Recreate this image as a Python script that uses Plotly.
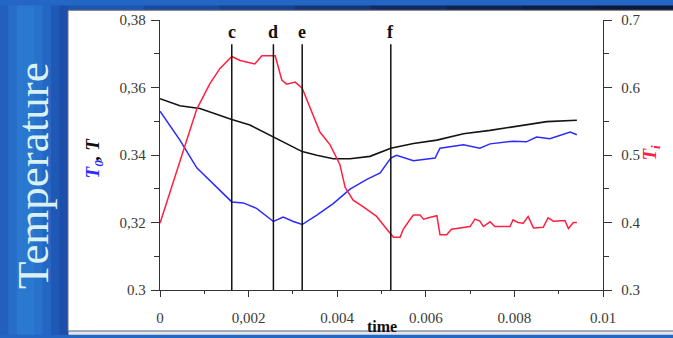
import plotly.graph_objects as go

# ---- data -------------------------------------------------------------
# Mean temperature T (left axis)
t_T = [0, 0.00045, 0.0009, 0.00162, 0.00203, 0.00256, 0.00321, 0.00354, 0.00391,
       0.00429, 0.00474, 0.00521, 0.00572, 0.00625, 0.00685, 0.00745, 0.00797,
       0.00843, 0.00873, 0.00941]
T_vals = [0.3567, 0.3546, 0.3538, 0.3505, 0.3489, 0.3453, 0.3410, 0.3399, 0.3389,
          0.3389, 0.3396, 0.3420, 0.3434, 0.3444, 0.3463, 0.3473, 0.3484,
          0.3492, 0.3499, 0.3503]

# T0 (left axis)
t_T0 = [0, 0.00045, 0.00083, 0.00128, 0.00162, 0.00188, 0.00218, 0.00256, 0.00278,
        0.00301, 0.00321, 0.00354, 0.00391, 0.00429, 0.00467, 0.00497, 0.00521,
        0.00534, 0.00572, 0.00621, 0.00632, 0.00685, 0.00722, 0.00745, 0.00797,
        0.00827, 0.0085, 0.0088, 0.00926, 0.00941]
T0_vals = [0.353, 0.3444, 0.3362, 0.3304, 0.3261, 0.3258, 0.3242, 0.3203, 0.3216,
           0.3203, 0.3194, 0.3222, 0.3256, 0.3299, 0.3328, 0.3347, 0.3391,
           0.3399, 0.3383, 0.3391, 0.3420, 0.3430, 0.3420, 0.3433, 0.3441,
           0.3439, 0.3453, 0.3448, 0.3468, 0.3460]

# Ti (right axis)
t_Ti = [0, 0.00038, 0.0006, 0.00083, 0.00113, 0.00135, 0.00162, 0.00181, 0.00214,
        0.0023, 0.0026, 0.00275, 0.00286, 0.00305, 0.00321, 0.00346, 0.00361,
        0.00384, 0.00406, 0.00418, 0.00436, 0.00459, 0.00489, 0.00512, 0.00527,
        0.00542, 0.00549, 0.00564, 0.00572, 0.00587, 0.00595, 0.00606, 0.00625,
        0.00632, 0.00647, 0.00658, 0.00677, 0.007, 0.00711, 0.00722, 0.0073,
        0.00745, 0.00756, 0.0079, 0.00797, 0.00808, 0.0082, 0.00831, 0.00843,
        0.00865, 0.00876, 0.00888, 0.00914, 0.00922, 0.00933, 0.00941]
Ti_vals = [0.399, 0.476, 0.519, 0.568, 0.606, 0.628, 0.646, 0.640, 0.635,
           0.647, 0.647, 0.611, 0.605, 0.608, 0.599, 0.558, 0.534,
           0.515, 0.486, 0.452, 0.433, 0.423, 0.409, 0.390, 0.378,
           0.378, 0.390, 0.404, 0.411, 0.411, 0.405, 0.407, 0.410,
           0.382, 0.382, 0.390, 0.392, 0.394, 0.405, 0.402, 0.394,
           0.401, 0.394, 0.394, 0.404, 0.400, 0.399, 0.409, 0.392,
           0.393, 0.407, 0.402, 0.403, 0.391, 0.400, 0.400]

# Marked instants
event_labels = ["c", "d", "e", "f"]
event_times = [0.00162, 0.00256, 0.00321, 0.00521]

# Axis ticks
x_ticks = [0, 0.002, 0.004, 0.006, 0.008, 0.01]
x_tick_labels = ["0", "0,002", "0.004", "0.006", "0.008", "0.01"]
y_ticks = [0.30, 0.32, 0.34, 0.36, 0.38]
y_tick_labels = ["0.3", "0,32", "0.34", "0,36", "0,38"]
y2_ticks = [0.3, 0.4, 0.5, 0.6, 0.7]
y2_tick_labels = ["0.3", "0.4", "0.5", "0.6", "0.7"]

# ---- styling ----------------------------------------------------------
SERIF = "Liberation Serif"
AXIS_COL = "#333333"
TICK_FONT = dict(family=SERIF, size=15, color="#3a3a3a")
W, H = 673, 338
ML, MR, MT, MB = 160, 70, 15, 46
PW, PH = W - ML - MR, H - MT - MB


def px_x(p):
    return (p - ML) / PW


def px_y(p):
    return (H - MB - p) / PH


fig = go.Figure()
fig.add_trace(go.Scatter(x=t_T, y=T_vals, mode="lines", name="T",
                         line=dict(color="#141414", width=1.6)))
fig.add_trace(go.Scatter(x=t_T0, y=T0_vals, mode="lines", name="T0",
                         line=dict(color="#2b2bff", width=1.5)))
fig.add_trace(go.Scatter(x=t_Ti, y=Ti_vals, mode="lines", name="Ti", yaxis="y2",
                         line=dict(color="#ff2040", width=1.5)))

shapes = []
# blue slide background on the left (horizontal gradient in stripes)
left_cols = ["#2360bd", "#286ec9", "#2b78d0", "#2b78d0", "#2872cc", "#2366c3", "#1f58b5", "#1c4fab"]
sw = 68 / len(left_cols)
for i, c in enumerate(left_cols):
    shapes.append(dict(type="rect", xref="paper", yref="paper", layer="below",
                       x0=px_x(i * sw), x1=px_x((i + 1) * sw + 0.5),
                       y0=px_y(H), y1=px_y(0), fillcolor=c, line=dict(width=0)))
# dark band across the top
top_cols = ["#1d55b3", "#1a4aa0", "#17408c", "#143577", "#112b62", "#0f2250", "#0e1c44", "#0d183a"]
tw = (W - 68) / len(top_cols)
for i, c in enumerate(top_cols):
    shapes.append(dict(type="rect", xref="paper", yref="paper", layer="below",
                       x0=px_x(68 + i * tw), x1=px_x(68 + (i + 1) * tw + 0.5),
                       y0=px_y(5), y1=px_y(0), fillcolor=c, line=dict(width=0)))
# white chart panel and light strip under it
shapes.append(dict(type="rect", xref="paper", yref="paper", layer="below",
                   x0=px_x(68), x1=px_x(W + 2), y0=px_y(334), y1=px_y(5),
                   fillcolor="white", line=dict(color="#707070", width=1)))
shapes.append(dict(type="rect", xref="paper", yref="paper", layer="below",
                   x0=px_x(68.5), x1=px_x(W + 2), y0=px_y(H), y1=px_y(334.5),
                   fillcolor="#e4e6ea", line=dict(width=0)))
# vertical markers
for tv in event_times:
    shapes.append(dict(type="line", xref="x", yref="y", x0=tv, x1=tv,
                       y0=0.30, y1=0.3728, line=dict(color="#111111", width=1.5)))

annotations = []
for lab, tv in zip(event_labels, event_times):
    annotations.append(dict(x=tv, y=0.3763, xref="x", yref="y", text=f"<b>{lab}</b>",
                            showarrow=False, font=dict(family=SERIF, size=18, color="#111111"),
                            xanchor="center", yanchor="middle"))
annotations += [
    dict(x=px_x(33), y=px_y(175), xref="paper", yref="paper", text="Temperature",
         textangle=-90, showarrow=False,
         font=dict(family=SERIF, size=45, color="#d9f1f1"),
         xanchor="center", yanchor="middle"),
    dict(x=px_x(94), y=px_y(157), xref="paper", yref="paper",
         text="<b><i><span style='color:#2b2bff'>T<sub>0</sub></span>, T</i></b>",
         textangle=-90, showarrow=False,
         font=dict(family=SERIF, size=19, color="#111111"),
         xanchor="center", yanchor="middle"),
    dict(x=px_x(651), y=px_y(151), xref="paper", yref="paper",
         text="<b><i>T<sub>i</sub></i></b>",
         textangle=-90, showarrow=False,
         font=dict(family=SERIF, size=19, color="#ff2040"),
         xanchor="center", yanchor="middle"),
    dict(x=0.5, y=px_y(329), xref="paper", yref="paper", text="<b>time</b>",
         showarrow=False, font=dict(family=SERIF, size=16, color="#111111"),
         xanchor="center", yanchor="middle"),
]

common = dict(showgrid=False, zeroline=False, showline=True, linecolor=AXIS_COL,
              linewidth=1.4, ticks="outside", tickcolor=AXIS_COL, tickwidth=1.2,
              tickfont=TICK_FONT)

fig.update_layout(
    width=W, height=H,
    margin=dict(l=ML, r=MR, t=MT, b=MB, pad=0),
    paper_bgcolor="#2366c4",
    plot_bgcolor="rgba(0,0,0,0)",
    showlegend=False,
    font=dict(family=SERIF),
    xaxis=dict(range=[0, 0.01], tickmode="array", tickvals=x_ticks, ticktext=x_tick_labels,
               ticklen=6, ticklabelstandoff=8,
               minor=dict(tickvals=[0.001, 0.003, 0.005, 0.007, 0.009], ticks="outside",
                          ticklen=3, tickcolor=AXIS_COL),
               **common),
    yaxis=dict(range=[0.30, 0.38], tickmode="array", tickvals=y_ticks, ticktext=y_tick_labels,
               ticklen=8, ticklabelstandoff=2,
               minor=dict(tickvals=[0.31, 0.33, 0.35, 0.37], ticks="outside",
                          ticklen=5, tickcolor=AXIS_COL),
               **common),
    yaxis2=dict(range=[0.3, 0.7], overlaying="y", side="right", anchor="x",
                tickmode="array", tickvals=y2_ticks, ticktext=y2_tick_labels,
                ticklen=8, ticklabelstandoff=6,
                minor=dict(tickvals=[0.35, 0.45, 0.55, 0.65], ticks="outside",
                           ticklen=5, tickcolor=AXIS_COL),
                **common),
    shapes=shapes,
    annotations=annotations,
)

fig.write_html("out.html")
